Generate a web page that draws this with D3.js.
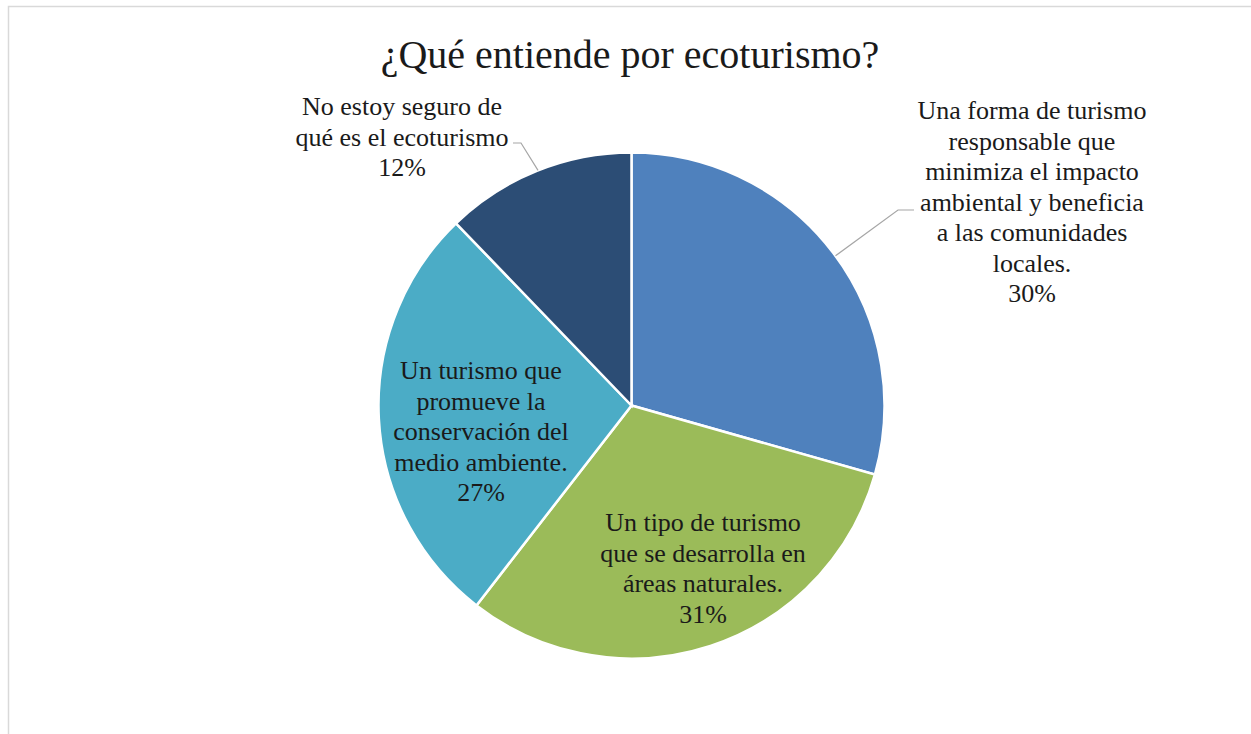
<!DOCTYPE html>
<html><head><meta charset="utf-8">
<script src="https://cdn.jsdelivr.net/npm/d3@7"></script>
<style>
body{margin:0;background:#fff;}
svg{display:block;}
svg text{font-family:"Liberation Serif","Times New Roman",Tinos,"DejaVu Serif",serif;}
</style>
</head><body>
<svg id="c" width="1251" height="734"></svg>
<script>
const title = "¿Qué entiende por ecoturismo?";
const categories = [
  ["Una forma de turismo","responsable que","minimiza el impacto","ambiental y beneficia","a las comunidades","locales."],
  ["Un tipo de turismo","que se desarrolla en","áreas naturales."],
  ["Un turismo que","promueve la","conservación del","medio ambiente."],
  ["No estoy seguro de","qué es el ecoturismo"]
];
const values = [29.4, 31.1, 27.3, 12.2];
const percentLabels = ["30%", "31%", "27%", "12%"];
const colors = ["#4F81BD", "#9BBB59", "#4BACC6", "#2C4D75"];

const svg = d3.select("#c");
const W = 1251, H = 734;
const cx = 631.5, cy = 405.5, R = 253;

// chart border
svg.append("path").attr("d", `M8.5,${H} L8.5,6.5 L${W},6.5`)
  .attr("fill","none").attr("stroke","#d9d9d9").attr("stroke-width",1.5);

svg.append("text").attr("x", 630).attr("y", 68).attr("text-anchor","middle")
  .attr("font-size", 40).attr("fill","#1a1a1a").text(title);

const pie = d3.pie().sort(null).value(d => d);
const arcs = pie(values);
const arc = d3.arc().innerRadius(0).outerRadius(R);
const g = svg.append("g").attr("transform", `translate(${cx},${cy})`);
g.selectAll("path").data(arcs).enter().append("path")
  .attr("d", arc).attr("fill", (d,i) => colors[i])
  .attr("stroke","#fff").attr("stroke-width",2.5);

// label layout (center x, first-line baseline y), line height
const lh = 30.5;
const layout = [
  {x: 1032, y: 119},
  {x: 703, y: 531},
  {x: 481, y: 379},
  {x: 402, y: 115}
];
arcs.forEach((a, i) => {
  const lines = categories[i].concat([percentLabels[i]]);
  const t = svg.append("text").attr("text-anchor","middle")
    .attr("font-size", 26).attr("fill","#1a1a1a");
  lines.forEach((s, k) => {
    t.append("tspan").attr("x", layout[i].x).attr("y", layout[i].y + k * lh).text(s);
  });
});

// leader lines
const leaders = [
  {i: 0, pts: [[914,210],[898,210]]},
  {i: 3, pts: [[513,143],[521,143]]}
];
leaders.forEach(L => {
  const pts = L.pts.slice();
  const p = pts[pts.length-1];
  const ang = Math.atan2(p[0]-cx, -(p[1]-cy)) + (L.i === 3 ? 0.02 : 0);
  pts.push([cx + R*Math.sin(ang), cy - R*Math.cos(ang)]);
  svg.append("path").attr("d", d3.line()(pts)).attr("fill","none")
    .attr("stroke","#a6a6a6").attr("stroke-width",1.2);
});
</script>
</body></html>
